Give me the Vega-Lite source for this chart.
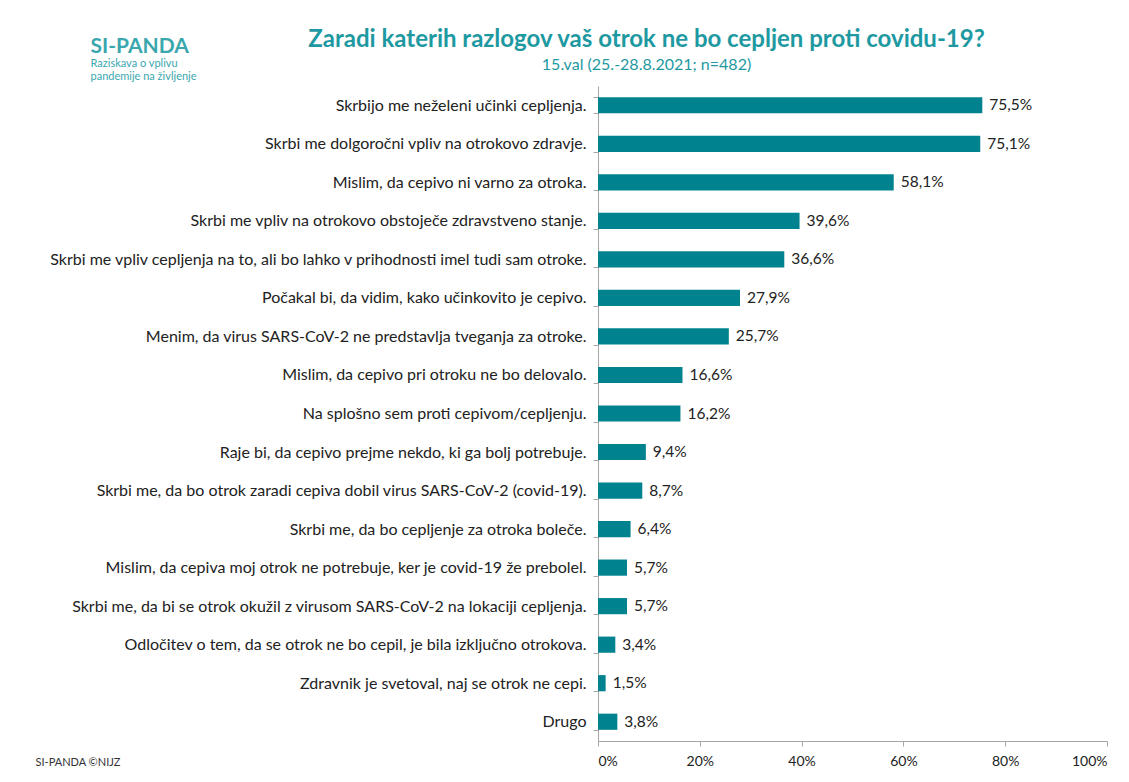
{
  "$schema": "https://vega.github.io/schema/vega-lite/v6.json",
  "width": 509,
  "height": 655,
  "autosize": {"type": "none"},
  "padding": {"left": 598, "top": 86, "right": 22, "bottom": 41},
  "background": "white",
  "config": {
    "font": "Lato",
    "view": {"stroke": null},
    "locale": {"number": {"decimal": ",", "thousands": ".", "grouping": [3], "currency": ["", " €"]}}
  },
  "title": {
    "text": "Zaradi katerih razlogov vaš otrok ne bo cepljen proti covidu-19?",
    "subtitle": "15.val (25.-28.8.2021; n=482)",
    "anchor": "middle",
    "frame": "group",
    "dx": -206,
    "offset": -38,
    "font": "Lato",
    "fontSize": 24,
    "fontWeight": "bold",
    "color": "#1e99a1",
    "subtitleFont": "Lato",
    "subtitleFontSize": 16,
    "subtitleColor": "#1e99a1",
    "subtitlePadding": 5
  },
  "data": {
    "values": [
      {"reason": "Skrbijo me neželeni učinki cepljenja.", "share": 0.755},
      {"reason": "Skrbi me dolgoročni vpliv na otrokovo zdravje.", "share": 0.751},
      {"reason": "Mislim, da cepivo ni varno za otroka.", "share": 0.581},
      {"reason": "Skrbi me vpliv na otrokovo obstoječe zdravstveno stanje.", "share": 0.396},
      {"reason": "Skrbi me vpliv cepljenja na to, ali bo lahko v prihodnosti imel tudi sam otroke.", "share": 0.366},
      {"reason": "Počakal bi, da vidim, kako učinkovito je cepivo.", "share": 0.279},
      {"reason": "Menim, da virus SARS-CoV-2 ne predstavlja tveganja za otroke.", "share": 0.257},
      {"reason": "Mislim, da cepivo pri otroku ne bo delovalo.", "share": 0.166},
      {"reason": "Na splošno sem proti cepivom/cepljenju.", "share": 0.162},
      {"reason": "Raje bi, da cepivo prejme nekdo, ki ga bolj potrebuje.", "share": 0.094},
      {"reason": "Skrbi me, da bo otrok zaradi cepiva dobil virus SARS-CoV-2 (covid-19).", "share": 0.087},
      {"reason": "Skrbi me, da bo cepljenje za otroka boleče.", "share": 0.064},
      {"reason": "Mislim, da cepiva moj otrok ne potrebuje, ker je covid-19 že prebolel.", "share": 0.057},
      {"reason": "Skrbi me, da bi se otrok okužil z virusom SARS-CoV-2 na lokaciji cepljenja.", "share": 0.057},
      {"reason": "Odločitev o tem, da se otrok ne bo cepil, je bila izključno otrokova.", "share": 0.034},
      {"reason": "Zdravnik je svetoval, naj se otrok ne cepi.", "share": 0.015},
      {"reason": "Drugo", "share": 0.038}
    ]
  },
  "layer": [
    {
      "mark": {"type": "bar", "color": "#00838f"},
      "encoding": {
        "y": {
          "field": "reason", "type": "nominal", "sort": null,
          "scale": {"paddingInner": 0.58, "paddingOuter": 0.29},
          "axis": {
            "title": "SI-PANDA",
            "titleAngle": 0, "titleX": -508, "titleY": -34,
            "titleAlign": "left", "titleBaseline": "alphabetic",
            "titleFont": "Lato", "titleFontSize": 21, "titleFontWeight": "bold", "titleColor": "#3aa7ae",
            "labelFont": "Lato", "labelFontSize": 16, "labelColor": "#222222", "labelLimit": 600,
            "labelPadding": 7, "tickSize": 5, "tickBand": "extent",
            "domainColor": "#a6a6a6", "tickColor": "#a6a6a6"
          }
        },
        "x": {
          "field": "share", "type": "quantitative",
          "scale": {"domain": [0, 1], "nice": false},
          "axis": {
            "format": ".0%", "values": [0, 0.2, 0.4, 0.6, 0.8, 1],
            "grid": false, "tickSize": 5, "labelPadding": 8,
            "labelFont": "Lato", "labelFontSize": 14, "labelColor": "#222222",
            "domainColor": "#a6a6a6", "tickColor": "#a6a6a6",
            "title": "SI-PANDA ©NIJZ",
            "titleX": -563, "titleY": 24, "titleAnchor": "start", "titleAlign": "left", "titleBaseline": "alphabetic",
            "titleFont": "Lato", "titleFontSize": 11, "titleFontWeight": "normal", "titleColor": "#333333"
          }
        }
      }
    },
    {
      "mark": {"type": "text", "align": "left", "baseline": "middle", "dx": 7, "fontSize": 15.5, "color": "#222222", "font": "Lato"},
      "encoding": {
        "y": {
          "field": "reason", "type": "nominal", "sort": null,
          "scale": {"paddingInner": 0.58, "paddingOuter": 0.29},
          "axis": {
            "orient": "left", "labels": false, "ticks": false, "domain": false,
            "title": ["Raziskava o vplivu", "pandemije na življenje"],
            "titleAngle": 0, "titleX": -508, "titleY": -20,
            "titleAlign": "left", "titleBaseline": "alphabetic", "titleLineHeight": 13,
            "titleFont": "Lato", "titleFontSize": 11, "titleFontWeight": "normal", "titleColor": "#3aa7ae"
          }
        },
        "x": {"field": "share", "type": "quantitative"},
        "text": {"field": "share", "type": "quantitative", "format": ".1%"}
      }
    }
  ],
  "resolve": {"scale": {"y": "independent"}}
}
